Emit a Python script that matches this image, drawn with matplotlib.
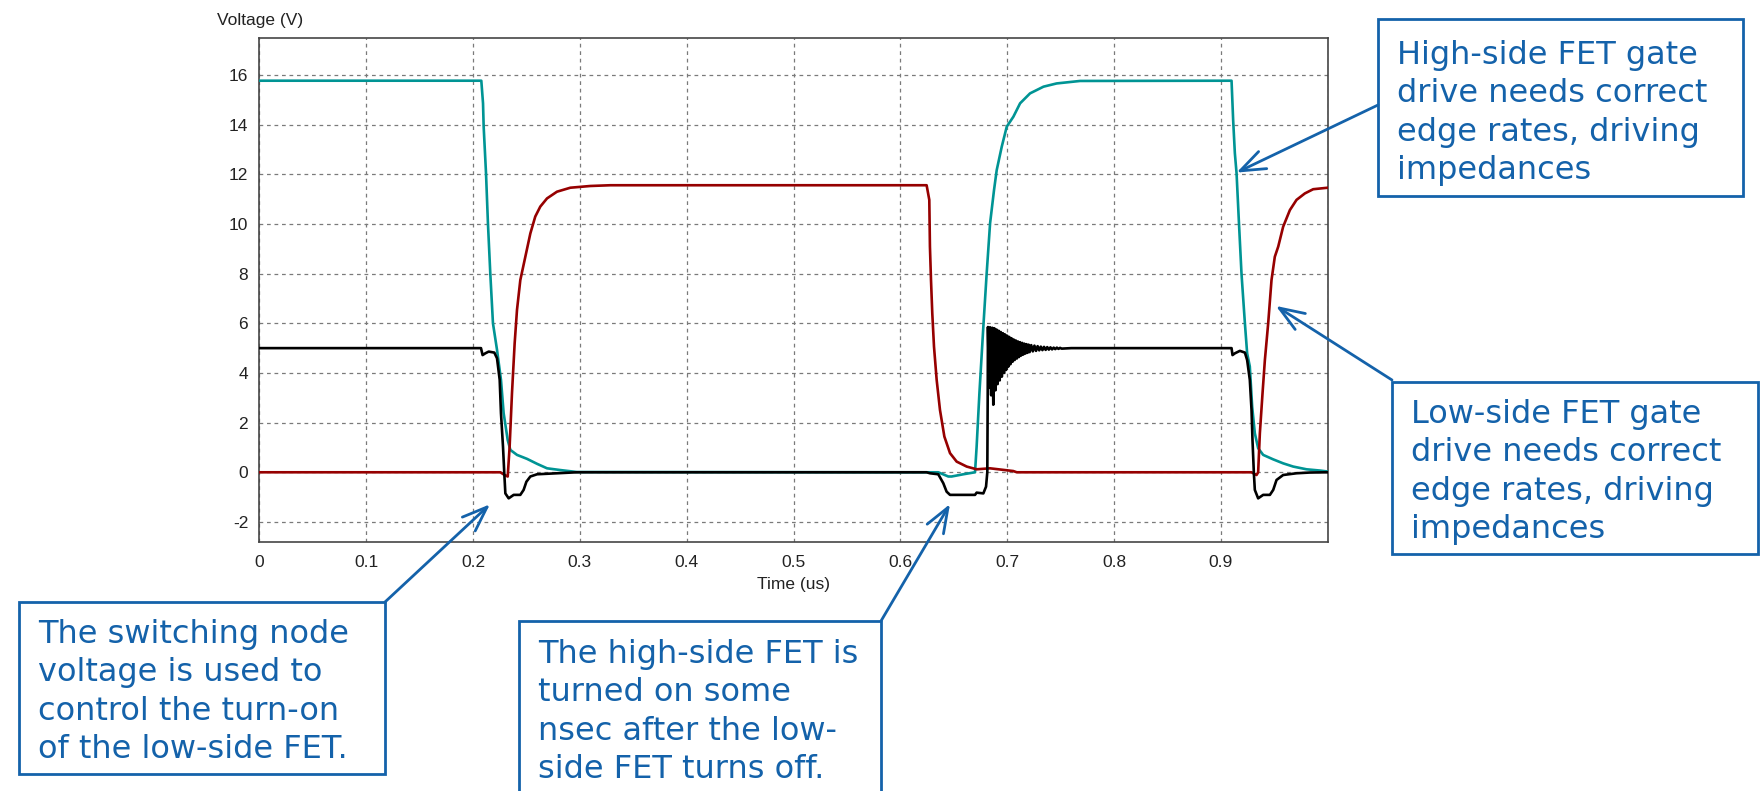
import matplotlib
matplotlib.use("Agg")
import matplotlib.pyplot as plt
from matplotlib.patches import Rectangle

plt.rcParams["axes.unicode_minus"] = False

# ----------------------------
# Data (time in us, voltage in V)
# ----------------------------

high_gate = [
    (0.0, 15.77), (0.2078, 15.77), (0.2094, 14.86), (0.2100, 13.92), (0.2122, 12.04),
    (0.2140, 10.03), (0.2162, 8.01), (0.2187, 6.00), (0.2225, 4.93), (0.2262, 3.72),
    (0.2287, 2.38), (0.2325, 1.30), (0.2350, 0.90), (0.2412, 0.70), (0.2506, 0.54),
    (0.2600, 0.34), (0.2693, 0.16), (0.2817, 0.09), (0.2973, 0.01), (0.6246, 0.0),
    (0.6355, 0.0), (0.6449, -0.17), (0.6480, -0.17), (0.6590, -0.08), (0.6699, 0.0),
    (0.6714, 1.03), (0.6740, 3.18), (0.6777, 5.87), (0.6808, 8.01), (0.6840, 10.03),
    (0.6877, 11.37), (0.6902, 12.17), (0.6949, 13.11), (0.6996, 13.92), (0.7058, 14.32),
    (0.7121, 14.86), (0.7214, 15.26), (0.7340, 15.53), (0.7463, 15.66), (0.7682, 15.76),
    (0.9100, 15.77), (0.9115, 14.19), (0.9131, 12.85), (0.9147, 12.04), (0.9168, 10.16),
    (0.9193, 8.01), (0.9225, 6.00), (0.9246, 4.79), (0.9271, 4.26), (0.9293, 2.64),
    (0.9318, 1.57), (0.9349, 0.97), (0.9396, 0.70), (0.9490, 0.52), (0.9583, 0.36),
    (0.9677, 0.23), (0.9802, 0.12), (0.9927, 0.07), (1.0, 0.03),
]

low_gate = [
    (0.0, 0.0), (0.2256, 0.0), (0.2296, -0.11), (0.2325, -0.17), (0.2343, 1.03),
    (0.2365, 3.18), (0.2390, 5.19), (0.2412, 6.54), (0.2443, 7.74), (0.2490, 8.68),
    (0.2537, 9.62), (0.2583, 10.30), (0.2630, 10.70), (0.2693, 11.03), (0.2786, 11.30),
    (0.2911, 11.46), (0.3098, 11.53), (0.3286, 11.56), (0.6246, 11.56), (0.6271, 10.97),
    (0.6277, 9.09), (0.6287, 7.74), (0.6299, 6.40), (0.6315, 5.06), (0.6340, 3.72),
    (0.6371, 2.51), (0.6412, 1.44), (0.6465, 0.77), (0.6527, 0.43), (0.6621, 0.23),
    (0.6714, 0.12), (0.6839, 0.16), (0.7057, 0.05), (0.7090, 0.0), (0.9287, 0.0),
    (0.9334, -0.11), (0.9349, 0.0), (0.9365, 1.57), (0.9390, 3.18), (0.9412, 4.52),
    (0.9443, 6.00), (0.9474, 7.74), (0.9505, 8.68), (0.9537, 9.09), (0.9583, 9.89),
    (0.9646, 10.56), (0.9708, 10.97), (0.9786, 11.23), (0.9864, 11.40), (1.0, 11.46),
]

switch_node_a = [
    (0.0, 5.0), (0.2075, 5.0), (0.2090, 4.72), (0.2115, 4.79), (0.2147, 4.86),
    (0.2200, 4.82), (0.2225, 4.59), (0.2250, 3.72), (0.2262, 2.38), (0.2281, 1.03),
    (0.2293, -0.04), (0.2303, -0.85), (0.2334, -1.05), (0.2381, -0.91), (0.2443, -0.91),
    (0.2474, -0.71), (0.2500, -0.38), (0.2537, -0.17), (0.2600, -0.08), (0.2786, -0.04),
    (0.2973, 0.0), (0.6246, 0.0), (0.6277, -0.04), (0.6355, -0.08), (0.6402, -0.44),
    (0.6433, -0.78), (0.6465, -0.91), (0.6699, -0.91), (0.6714, -0.82), (0.6777, -0.85),
    (0.6802, -0.58), (0.6814, 0.0), (0.6818, 3.32),
]

# ringing after the high-side turn-on
ring_t = [0.6820, 0.6830, 0.6840, 0.6850, 0.6860, 0.6870, 0.6880, 0.6890, 0.6900, 0.6910,
          0.6920, 0.6930, 0.6940, 0.6950, 0.6960, 0.6970, 0.6980, 0.6990, 0.7000, 0.7010,
          0.7020, 0.7030, 0.7040, 0.7050, 0.7060, 0.7070, 0.7080, 0.7090, 0.7100, 0.7110,
          0.7120, 0.7130, 0.7140, 0.7150, 0.7160, 0.7170, 0.7180, 0.7190, 0.7200, 0.7210,
          0.7225, 0.7240, 0.7255, 0.7270, 0.7285, 0.7300, 0.7315, 0.7330, 0.7345, 0.7360,
          0.7375, 0.7390, 0.7405, 0.7420, 0.7435, 0.7450, 0.7465, 0.7480, 0.7495, 0.7510]
ring_v = [5.85, 3.40, 5.84, 3.10, 5.82, 2.72, 5.80, 3.30, 5.75, 3.55,
          5.70, 3.70, 5.65, 3.85, 5.60, 4.00, 5.55, 4.12, 5.50, 4.25,
          5.45, 4.35, 5.40, 4.45, 5.35, 4.52, 5.31, 4.58, 5.27, 4.64,
          5.24, 4.70, 5.21, 4.74, 5.18, 4.78, 5.16, 4.81, 5.14, 4.84,
          5.12, 4.87, 5.10, 4.89, 5.08, 4.91, 5.06, 4.92, 5.05, 4.93,
          5.04, 4.94, 5.03, 4.95, 5.02, 4.96, 5.02, 4.97, 5.01, 4.98]

switch_node_b = [
    (0.7600, 5.0), (0.9100, 5.0), (0.9109, 4.72), (0.9131, 4.79), (0.9178, 4.89),
    (0.9225, 4.82), (0.9246, 4.52), (0.9271, 3.72), (0.9287, 2.51), (0.9296, 1.30),
    (0.9309, -0.04), (0.9318, -0.71), (0.9349, -1.05), (0.9396, -0.91), (0.9459, -0.91),
    (0.9490, -0.71), (0.9521, -0.31), (0.9583, -0.11), (0.9708, -0.04), (0.9833, -0.01),
    (1.0, 0.0),
]

x_ticks = [0, 0.1, 0.2, 0.3, 0.4, 0.5, 0.6, 0.7, 0.8, 0.9]
x_tick_labels = ["0", "0.1", "0.2", "0.3", "0.4", "0.5", "0.6", "0.7", "0.8", "0.9"]
y_ticks = [-2, 0, 2, 4, 6, 8, 10, 12, 14, 16]

callouts = [
    # text, box (left, top, right, bottom) px, text offset px, arrow tip (data), arrow tail px
    ("High-side FET gate\ndrive needs correct\nedge rates, driving\nimpedances",
     (1378, 19, 1743, 196), 21, (0.9147, 12.07), (1378, 105)),
    ("Low-side FET gate\ndrive needs correct\nedge rates, driving\nimpedances",
     (1392, 382, 1758, 554), 17, (0.9515, 6.70), (1392, 380)),
    ("The switching node\nvoltage is used to\ncontrol the turn-on\nof the low-side FET.",
     (19, 602, 385, 774), 17, (0.2159, -1.29), (385, 602)),
    ("The high-side FET is\nturned on some\nnsec after the low-\nside FET turns off.",
     (519, 621, 881, 800), 18, (0.6465, -1.28), (881, 621)),
]

# ----------------------------
# Plot
# ----------------------------

W, H = 1760, 791
fig = plt.figure(figsize=(W / 100, H / 100), dpi=100)


def fx(px):
    return px / W


def fy(py):
    return 1 - py / H


ax = fig.add_axes([fx(259.3), fy(542.3), fx(1327.7) - fx(259.3), fy(38) - fy(542.3)])

tick_font = "Liberation Sans"
teal = "#009494"
dark_red = "#960000"

t, v = zip(*high_gate)
ax.plot(t, v, color=teal, lw=1.9, zorder=3)
t, v = zip(*low_gate)
ax.plot(t, v, color=dark_red, lw=1.9, zorder=3)
black = switch_node_a + list(zip(ring_t, ring_v)) + switch_node_b
t, v = zip(*black)
ax.plot(t, v, color="black", lw=1.9, zorder=4)

ax.set_xlim(0, 1.0)
ax.set_ylim(-2.82, 17.49)
ax.set_xticks(x_ticks)
ax.set_xticklabels(x_tick_labels)
ax.set_yticks(y_ticks)
ax.tick_params(length=0, labelsize=12.5, colors="#222222")
ax.tick_params(axis="x", pad=9)
ax.tick_params(axis="y", pad=8)
for lab in ax.get_xticklabels() + ax.get_yticklabels():
    lab.set_fontfamily(tick_font)

ax.grid(True, color="#7a7a7a", lw=0.9, linestyle=(0, (3, 3)))
ax.axvline(1.0, color="#7a7a7a", lw=0.9, linestyle=(0, (3, 3)))
for s in ax.spines.values():
    s.set_color("#454545")
    s.set_linewidth(1.2)

ax.set_xlabel("Time (us)", fontsize=12.5, family=tick_font, color="#222222", labelpad=5)
fig.text(fx(217), fy(20), "Voltage (V)", fontsize=12.5, family=tick_font,
         color="#222222", ha="left", va="center")

blue = "#1462aa"
for text, (l, top, r, b), dy, tip, tail in callouts:
    fig.add_artist(Rectangle((fx(l), fy(b)), fx(r) - fx(l), fy(top) - fy(b),
                             transform=fig.transFigure, fill=False,
                             edgecolor=blue, lw=2.0, clip_on=False))
    fig.text(fx(l + 19), fy(top + dy), text, fontsize=23,
             family="DejaVu Sans", color=blue, ha="left", va="top",
             linespacing=1.31)
    ax.annotate("", xy=tip, xycoords="data",
                xytext=(fx(tail[0]), fy(tail[1])), textcoords="figure fraction",
                arrowprops=dict(arrowstyle="->,head_length=0.9,head_width=0.34",
                                color=blue, lw=2.0, mutation_scale=20,
                                shrinkA=0, shrinkB=0),
                annotation_clip=False)

fig.savefig("out.png", dpi=100)
